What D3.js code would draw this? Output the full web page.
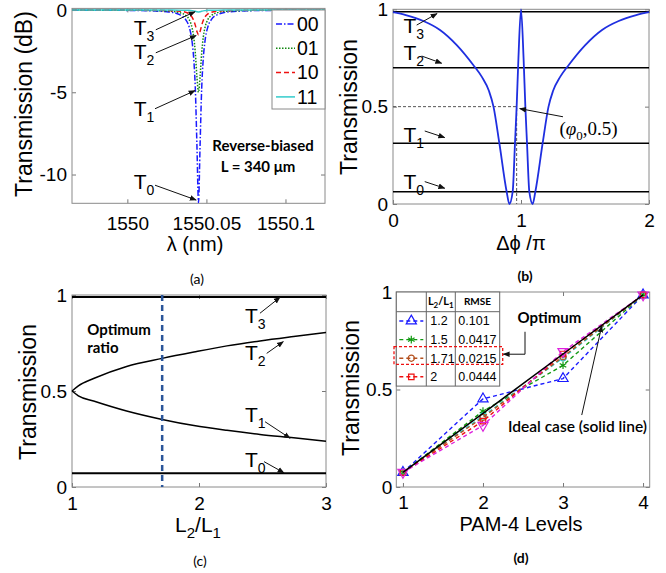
<!DOCTYPE html>
<html>
<head>
<meta charset="utf-8">
<script src="https://cdn.jsdelivr.net/npm/d3@7"></script>
<style>
body { margin: 0; background: #fff; }
svg text { font-family: Arial, "Liberation Sans", sans-serif; }
svg text.note { font-family: Lato, "Open Sans", sans-serif; }
svg text.serif { font-family: "Liberation Serif", "DejaVu Serif", serif; }
</style>
</head>
<body>
<svg id="fig" width="666" height="573"></svg>
<script>
// ---- (a) ring transmission spectra, dB
var lambdaNm = [1549.965, 1550.005, 1550.025, 1550.033, 1550.037, 1550.039, 1550.041, 1550.042, 1550.043, 1550.044, 1550.045,
                1550.046, 1550.047, 1550.048, 1550.049, 1550.051, 1550.053, 1550.057, 1550.065, 1550.085, 1550.125];
var dB00 = [-0.006, -0.026, -0.10, -0.28, -0.6, -1.0, -1.97, -2.98, -4.8, -8.2, -11.7, -8.2, -4.8, -2.98, -1.97, -1.0, -0.6, -0.28, -0.10, -0.026, -0.006];
var dB01 = [-0.004, -0.015, -0.057, -0.156, -0.34, -0.56, -1.11, -1.66, -2.62, -4.05, -5.0, -4.05, -2.62, -1.66, -1.11, -0.56, -0.34, -0.156, -0.057, -0.015, -0.004];
var dB10 = [-0.001, -0.006, -0.024, -0.066, -0.14, -0.23, -0.44, -0.64, -0.93, -1.30, -1.5, -1.30, -0.93, -0.64, -0.44, -0.23, -0.14, -0.066, -0.024, -0.006, -0.001];
var dB11 = [0, -0.001, -0.003, -0.008, -0.012, -0.018, -0.035, -0.05, -0.07, -0.10, -0.12, -0.10, -0.07, -0.05, -0.035, -0.018, -0.012, -0.008, -0.003, -0.001, 0];
var codes = ['00', '01', '10', '11'];

// ---- (b) transmission vs phase
var dphi = [0, 0.1, 0.237, 0.367, 0.5, 0.627, 0.693, 0.75, 0.785, 0.831, 0.888, 0.909, 0.935, 0.953, 0.966, 0.98, 1.0,
            1.02, 1.034, 1.047, 1.065, 1.091, 1.112, 1.169, 1.215, 1.25, 1.307, 1.373, 1.5, 1.633, 1.763, 1.9, 2.0];
var transB = [0.985, 0.97, 0.94, 0.894, 0.815, 0.714, 0.654, 0.58, 0.5, 0.312, 0.063, 0, 0.063, 0.312, 0.5, 0.75, 1.0,
              0.75, 0.5, 0.312, 0.063, 0, 0.063, 0.312, 0.5, 0.58, 0.654, 0.714, 0.815, 0.894, 0.94, 0.97, 0.985];
var levelsB = [0.063, 0.312, 0.70, 0.988];
var phi0 = 0.966;

// ---- (c) levels vs L2/L1
var ratioL = [1, 1.05, 1.17, 1.43, 1.71, 1.96, 2.22, 2.48, 2.745, 3];
var t2Curve = [0.5, 0.527, 0.565, 0.628, 0.67, 0.703, 0.735, 0.761, 0.784, 0.805];
var t1Curve = [0.5, 0.475, 0.448, 0.396, 0.352, 0.32, 0.295, 0.274, 0.256, 0.238];
var t0Level = 0.071, t3Level = 0.99;
var optimumRatio = 1.71;

// ---- (d) PAM-4 levels
var pamLevels = [1, 2, 3, 4];
var idealLine = [0.075, 0.378, 0.682, 0.985];
var ratioNames = ['1.2', '1.5', '1.71', '2'];
var rmseVals = ['0.101', '0.0417', '0.0215', '0.0444'];
var pam12 = [0.075, 0.452, 0.556, 0.985];
var pam15 = [0.075, 0.389, 0.624, 0.985];
var pam171 = [0.075, 0.357, 0.668, 0.985];
var pam2 = [0.075, 0.338, 0.682, 0.985];
var pamExtraC = [0.075, 0.364, 0.662, 0.985];
var pamExtraM = [0.075, 0.316, 0.695, 0.985];

var svg = d3.select('#fig');
svg.append('rect').attr('width', 666).attr('height', 573).attr('fill', '#fff');

svg.append('defs').append('marker').attr('id', 'arr')
    .attr('viewBox', '0 0 10 10').attr('refX', 9).attr('refY', 5)
    .attr('markerWidth', 7).attr('markerHeight', 7).attr('orient', 'auto')
    .append('path').attr('d', 'M0,1 L10,5 L0,9 z').attr('fill', '#111');

// draws box + inward ticks (matlab look), returns scales
function panel(bx, xd, yd, xt, yt, fx, fy, padX, padY) {
    var x = d3.scaleLinear().domain(xd).range([bx.l, bx.r]);
    var y = d3.scaleLinear().domain(yd).range([bx.b, bx.t]);
    var g = svg.append('g');
    var axes = [
        [d3.axisBottom(x).tickValues(xt).tickFormat(fx).tickPadding(padX), 'translate(0,' + bx.b + ')'],
        [d3.axisTop(x).tickValues(xt).tickFormat(''), 'translate(0,' + bx.t + ')'],
        [d3.axisLeft(y).tickValues(yt).tickFormat(fy).tickPadding(padY), 'translate(' + bx.l + ',0)'],
        [d3.axisRight(y).tickValues(yt).tickFormat(''), 'translate(' + bx.r + ',0)']
    ];
    axes.forEach(function (a) {
        var s = g.append('g').attr('transform', a[1])
            .call(a[0].tickSizeInner(-4).tickSizeOuter(0));
        s.select('.domain').remove();
        s.selectAll('line').attr('stroke', '#777');
        s.selectAll('text').attr('fill', '#000').attr('font-size', 19);
    });
    g.append('rect').attr('x', bx.l).attr('y', bx.t)
        .attr('width', bx.r - bx.l).attr('height', bx.b - bx.t)
        .attr('fill', 'none').attr('stroke', '#8a8a8a');
    return {x: x, y: y, g: g};
}

function yLabel(txt, x, y) {
    svg.append('text').attr('transform', 'translate(' + x + ',' + y + ') rotate(-90)')
        .attr('text-anchor', 'middle').attr('font-size', 23).text(txt);
}
function caption(txt, x, y, bold) {
    svg.append('text').attr('x', x).attr('y', y).attr('text-anchor', 'middle')
        .attr('class', 'note').attr('font-size', 14).attr('font-weight', bold ? 'bold' : 'normal')
        .attr('dominant-baseline', 'central').text(txt);
}
function tLabel(p, vx, vy, sub) {
    var t = svg.append('text').attr('x', p.x(vx)).attr('y', p.y(vy)).attr('font-size', 21);
    t.append('tspan').text('T');
    t.append('tspan').attr('font-size', 14).attr('dy', 6).text(sub);
}
function arrow(p, x1, y1, x2, y2) {
    svg.append('line').attr('x1', p.x(x1)).attr('y1', p.y(y1)).attr('x2', p.x(x2)).attr('y2', p.y(y2))
        .attr('stroke', '#111').attr('stroke-width', 1).attr('marker-end', 'url(#arr)');
}

var fmt = function (d) { return String(d); };

// ================= (a)
var pa = panel({l: 72, r: 325, t: 8.4, b: 203.3}, [1549.965, 1550.125], [-11.75, 0.1],
    [1550, 1550.05, 1550.1], [-10, -5, 0], fmt, fmt, 13, 5);
var aStyles = [
    {v: dB00, c: '#1a1aff', dash: '6,2,1.5,2'},
    {v: dB01, c: '#118811', dash: '1.5,1.5'},
    {v: dB10, c: '#ee1111', dash: '5,3'},
    {v: dB11, c: '#33cccc', dash: null}
];
aStyles.forEach(function (s) {
    var line = d3.line().x(function (d, i) { return pa.x(lambdaNm[i]); })
        .y(function (d) { return pa.y(d); }).curve(d3.curveMonotoneX);
    svg.append('path').datum(s.v).attr('d', line).attr('fill', 'none')
        .attr('stroke', s.c).attr('stroke-width', 1.5).attr('stroke-dasharray', s.dash);
});
// legend
var lg = svg.append('g');
lg.append('rect').attr('x', 272).attr('y', 10).attr('width', 53).attr('height', 99)
    .attr('fill', '#fff').attr('stroke', '#8a8a8a');
aStyles.forEach(function (s, i) {
    var yy = 24 + i * 24.3;
    lg.append('line').attr('x1', 276).attr('x2', 295).attr('y1', yy).attr('y2', yy)
        .attr('stroke', s.c).attr('stroke-width', 1.5).attr('stroke-dasharray', s.dash);
    lg.append('text').attr('x', 297).attr('y', yy).attr('dy', '0.35em').attr('font-size', 19.5).text(codes[i]);
});
tLabel(pa, 1550.004, -1.5, '3');
tLabel(pa, 1550.004, -2.95, '2');
tLabel(pa, 1550.004, -6.45, '1');
tLabel(pa, 1550.004, -10.9, '0');
arrow(pa, 1550.018, -1.2, 1550.0428, -0.1);
arrow(pa, 1550.018, -2.6, 1550.0435, -1.55);
arrow(pa, 1550.0175, -6.0, 1550.0428, -4.9);
arrow(pa, 1550.0175, -10.65, 1550.0435, -11.55);
svg.append('text').attr('class', 'note').attr('x', 263).attr('y', 151).attr('text-anchor', 'middle')
    .attr('font-size', 15).attr('font-weight', 'bold').text('Reverse-biased');
svg.append('text').attr('class', 'note').attr('x', 258).attr('y', 172).attr('text-anchor', 'middle')
    .attr('font-size', 15).attr('font-weight', 'bold').text('L = 340 \u03bcm');
yLabel('Transmission (dB)', 32, 104);
svg.append('text').attr('x', 195).attr('y', 251).attr('text-anchor', 'middle').attr('font-size', 20).text('\u03bb (nm)');
caption('(a)', 197, 278, false);

// ================= (b)
var pb = panel({l: 393, r: 649, t: 9.3, b: 204}, [0, 2], [0, 1],
    [0, 1, 2], [0, 0.5, 1], fmt, fmt, 10, 5);
levelsB.forEach(function (v) {
    svg.append('line').attr('x1', pb.x(0)).attr('x2', pb.x(2)).attr('y1', pb.y(v)).attr('y2', pb.y(v))
        .attr('stroke', '#000').attr('stroke-width', 1.5);
});
svg.append('path').datum([[0, 0.5], [phi0, 0.5], [phi0, 0]])
    .attr('d', d3.line().x(function (d) { return pb.x(d[0]); }).y(function (d) { return pb.y(d[1]); }))
    .attr('fill', 'none').attr('stroke', '#555').attr('stroke-dasharray', '3,2');
svg.append('path').datum(transB)
    .attr('d', d3.line().x(function (d, i) { return pb.x(dphi[i]); }).y(function (d) { return pb.y(d); }).curve(d3.curveMonotoneX))
    .attr('fill', 'none').attr('stroke', '#1f2fe0').attr('stroke-width', 1.8);
tLabel(pb, 0.082, 0.88, '3');
tLabel(pb, 0.082, 0.74, '2');
tLabel(pb, 0.082, 0.32, '1');
tLabel(pb, 0.082, 0.075, '0');
arrow(pb, 0.185, 0.919, 0.344, 0.978);
arrow(pb, 0.224, 0.76, 0.38, 0.723);
arrow(pb, 0.248, 0.375, 0.404, 0.341);
arrow(pb, 0.248, 0.115, 0.404, 0.081);
arrow(pb, 1.328, 0.448, 0.99, 0.49);
var ph = svg.append('text').attr('class', 'serif').attr('x', pb.x(1.30)).attr('y', pb.y(0.355)).attr('font-size', 19);
ph.append('tspan').text('(');
ph.append('tspan').attr('font-style', 'italic').text('\u03c6');
ph.append('tspan').attr('font-size', 13).attr('dy', 5).text('0');
ph.append('tspan').attr('dy', -5).text(',0.5)');
yLabel('Transmission', 357, 107);
svg.append('text').attr('x', 521).attr('y', 250).attr('text-anchor', 'middle').attr('font-size', 20).text('\u0394\u03d5 /\u03c0');
caption('(b)', 525, 275, true);

// ================= (c)
var pc = panel({l: 72, r: 326, t: 295, b: 487}, [1, 3], [0, 1],
    [1, 2, 3], [0, 0.5, 1], fmt, fmt, 10, 5);
[t0Level, t3Level].forEach(function (v) {
    svg.append('line').attr('x1', pc.x(1)).attr('x2', pc.x(3)).attr('y1', pc.y(v)).attr('y2', pc.y(v))
        .attr('stroke', '#000').attr('stroke-width', 2);
});
[t2Curve, t1Curve].forEach(function (arr) {
    svg.append('path').datum(arr)
        .attr('d', d3.line().x(function (d, i) { return pc.x(ratioL[i]); }).y(function (d) { return pc.y(d); }).curve(d3.curveMonotoneX))
        .attr('fill', 'none').attr('stroke', '#000').attr('stroke-width', 1.5);
});
svg.append('line').attr('x1', pc.x(optimumRatio)).attr('x2', pc.x(optimumRatio))
    .attr('y1', pc.y(1)).attr('y2', pc.y(0))
    .attr('stroke', '#2a5599').attr('stroke-width', 2.5).attr('stroke-dasharray', '6,4');
tLabel(pc, 2.362, 0.853, '3');
tLabel(pc, 2.362, 0.661, '2');
tLabel(pc, 2.362, 0.34, '1');
tLabel(pc, 2.362, 0.106, '0');
arrow(pc, 2.48, 0.905, 2.638, 0.988);
arrow(pc, 2.533, 0.696, 2.664, 0.757);
arrow(pc, 2.52, 0.34, 2.717, 0.254);
arrow(pc, 2.512, 0.132, 2.669, 0.074);
svg.append('text').attr('class', 'note').attr('x', pc.x(1.12)).attr('y', pc.y(0.792))
    .attr('font-size', 15).attr('font-weight', 'bold').text('Optimum');
svg.append('text').attr('class', 'note').attr('x', pc.x(1.12)).attr('y', pc.y(0.696))
    .attr('font-size', 15).attr('font-weight', 'bold').text('ratio');
yLabel('Transmission', 36, 392);
var xl = svg.append('text').attr('x', 198).attr('y', 532).attr('text-anchor', 'middle').attr('font-size', 21);
xl.append('tspan').text('L');
xl.append('tspan').attr('font-size', 15).attr('dy', 6).text('2');
xl.append('tspan').attr('dy', -6).text('/L');
xl.append('tspan').attr('font-size', 15).attr('dy', 6).text('1');
caption('(c)', 200, 560, false);

// ================= (d)
var pd = panel({l: 396.3, r: 649.7, t: 292, b: 487}, [0.917, 4.083], [0, 1],
    [1, 2, 3, 4], [0, 0.5, 1], fmt, fmt, 9, 4);
var sym = d3.symbolAsterisk || d3.symbolCross;
var pamSeries = [
    {v: pam12, c: '#1a1aff', s: d3.symbolTriangle, size: 45, fill: 'none', rot: 0},
    {v: pam15, c: '#119911', s: sym, size: 40, fill: '#119911', rot: 0},
    {v: pamExtraC, c: '#22cccc', s: d3.symbolCircle, size: 30, fill: 'none', rot: 0},
    {v: pam171, c: '#b4501e', s: d3.symbolCircle, size: 30, fill: 'none', rot: 0},
    {v: pam2, c: '#ee1111', s: d3.symbolSquare, size: 30, fill: 'none', rot: 0},
    {v: pamExtraM, c: '#dd22dd', s: d3.symbolTriangle, size: 45, fill: 'none', rot: 180}
];
var pamLine = d3.line().x(function (d, i) { return pd.x(pamLevels[i]); }).y(function (d) { return pd.y(d); });
pamSeries.forEach(function (s) {
    svg.append('path').datum(s.v).attr('d', pamLine).attr('fill', 'none')
        .attr('stroke', s.c).attr('stroke-width', 1.4).attr('stroke-dasharray', '4,3');
    svg.selectAll(null).data(s.v).enter().append('path')
        .attr('transform', function (d, i) { return 'translate(' + pd.x(pamLevels[i]) + ',' + pd.y(d) + ') rotate(' + s.rot + ')'; })
        .attr('d', d3.symbol().type(s.s).size(s.size))
        .attr('fill', s.fill).attr('stroke', s.c).attr('stroke-width', 1.2);
});
svg.append('path').datum(idealLine).attr('d', pamLine).attr('fill', 'none')
    .attr('stroke', '#000').attr('stroke-width', 1.5);

// table legend
var tb = svg.append('g');
var tx = [396.3, 426.3, 455.3, 499.7], ty0 = 292, th = 19.7, rh = 18.6;
tb.append('rect').attr('x', tx[0]).attr('y', ty0).attr('width', tx[3] - tx[0]).attr('height', th + 4 * rh)
    .attr('fill', '#fff').attr('stroke', '#666');
tb.append('line').attr('x1', tx[0]).attr('x2', tx[3]).attr('y1', ty0 + th).attr('y2', ty0 + th).attr('stroke', '#666');
[tx[1], tx[2]].forEach(function (xx) {
    tb.append('line').attr('x1', xx).attr('x2', xx).attr('y1', ty0).attr('y2', ty0 + th + 4 * rh).attr('stroke', '#666');
});
var hd = tb.append('text').attr('x', (tx[1] + tx[2]) / 2).attr('y', ty0 + 13).attr('text-anchor', 'middle')
    .attr('class', 'note').attr('font-size', 11).attr('font-weight', 'bold');
hd.append('tspan').text('L');
hd.append('tspan').attr('font-size', 8).attr('dy', 3).text('2');
hd.append('tspan').attr('dy', -3).text('/L');
hd.append('tspan').attr('font-size', 8).attr('dy', 3).text('1');
tb.append('text').attr('x', (tx[2] + tx[3]) / 2).attr('y', ty0 + 13).attr('text-anchor', 'middle')
    .attr('class', 'note').attr('font-size', 10).attr('font-weight', 'bold').text('RMSE');
var legendIdx = [0, 1, 3, 4];
legendIdx.forEach(function (k, i) {
    var s = pamSeries[k], yy = ty0 + th + rh * (i + 0.5);
    tb.append('line').attr('x1', tx[0] + 3).attr('x2', tx[1] - 3).attr('y1', yy).attr('y2', yy)
        .attr('stroke', s.c).attr('stroke-width', 1.4).attr('stroke-dasharray', '4,3');
    tb.append('path').attr('transform', 'translate(' + (tx[0] + tx[1]) / 2 + ',' + yy + ')')
        .attr('d', d3.symbol().type(s.s).size(s.size)).attr('fill', s.fill).attr('stroke', s.c).attr('stroke-width', 1.2);
    tb.append('text').attr('x', tx[1] + 4).attr('y', yy).attr('dy', '0.35em').attr('font-size', 12.5).text(ratioNames[i]);
    tb.append('text').attr('x', tx[2] + 3).attr('y', yy).attr('dy', '0.35em').attr('font-size', 12.5).text(rmseVals[i]);
});
tb.append('rect').attr('x', 394).attr('y', 346.7).attr('width', 108.7).attr('height', 17.6)
    .attr('fill', 'none').attr('stroke', '#ee1111').attr('stroke-width', 1.3).attr('stroke-dasharray', '3,2');

svg.append('text').attr('class', 'note').attr('x', pd.x(2.83)).attr('y', pd.y(0.839)).attr('text-anchor', 'middle')
    .attr('font-size', 15).attr('font-weight', 'bold').text('Optimum');
svg.append('path').datum([[2.525, 0.796], [2.525, 0.681], [2.254, 0.681]])
    .attr('d', d3.line().x(function (d) { return pd.x(d[0]); }).y(function (d) { return pd.y(d[1]); }))
    .attr('fill', 'none').attr('stroke', '#111').attr('marker-end', 'url(#arr)');
svg.append('text').attr('class', 'note').attr('x', pd.x(2.3125)).attr('y', pd.y(0.284))
    .attr('font-size', 15).attr('font-weight', 600).attr('textLength', 139).attr('lengthAdjust', 'spacingAndGlyphs')
    .text('Ideal case (solid line)');
arrow(pd, 3.234, 0.369, 3.484, 0.826);
yLabel('Transmission', 359, 388);
svg.append('text').attr('x', 521).attr('y', 531).attr('text-anchor', 'middle').attr('font-size', 20).text('PAM-4 Levels');
caption('(d)', 521, 557, true);
</script>
</body>
</html>
